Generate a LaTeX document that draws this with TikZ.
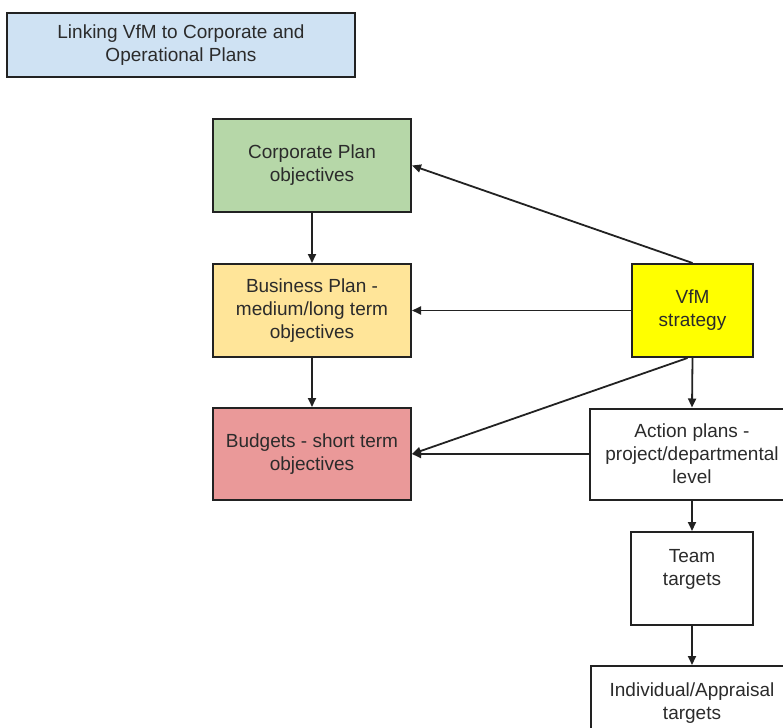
\documentclass[tikz,border=0pt]{standalone}
\usepackage{fontspec}
\setmainfont{Liberation Sans}
\usetikzlibrary{arrows.meta}
\definecolor{bordercol}{HTML}{222222}
\definecolor{textcol}{HTML}{2B2B2B}
\definecolor{titlefill}{HTML}{CFE2F3}
\definecolor{corpfill}{HTML}{B6D7A8}
\definecolor{busfill}{HTML}{FFE599}
\definecolor{budfill}{HTML}{EA9999}
\definecolor{vfmfill}{HTML}{FFFF00}
\tikzset{
  box/.style={draw=bordercol, line width=2pt, align=center, inner sep=0pt,
    font=\fontsize{19}{23}\selectfont, text=textcol, rectangle},
  arr/.style={draw=bordercol, line width=1.8pt, -{Triangle[length=9pt,width=8pt]}}
}
\begin{document}
\begin{tikzpicture}[x=1pt,y=-1pt]
\useasboundingbox (0,0) rectangle (783,727);
\node[box, fill=titlefill, minimum width=348pt, minimum height=64pt] (title) at (181,45)
  {Linking VfM to Corporate and\\Operational Plans};
\node[box, fill=corpfill, minimum width=198pt, minimum height=93pt] (corp) at (312,165.5)
  {Corporate Plan\\objectives};
\node[box, fill=busfill, minimum width=198pt, minimum height=93pt] (bus) at (312,310.5)
  {Business Plan -\\medium/long term\\objectives};
\node[box, fill=budfill, minimum width=198pt, minimum height=92pt] (bud) at (312,454)
  {Budgets - short term\\objectives};
\node[box, fill=vfmfill, minimum width=121pt, minimum height=93pt] (vfm) at (692.5,310.5)
  {VfM\\strategy};
\node[box, fill=white, minimum width=204pt, minimum height=91pt] (act) at (692,454)
  {Action plans -\\project/departmental\\level};
\node[box, fill=white, minimum width=122pt, minimum height=93pt] (team) at (692,578.5)
  {Team\\targets\\\mbox{}};
\node[box, fill=white, minimum width=202pt, minimum height=93pt] (ind) at (692,712.5)
  {Individual/Appraisal\\targets\\\mbox{}};
\draw[arr] (corp) -- (bus);
\draw[arr] (bus) -- (bud);
\draw[arr] (vfm.north) -- (corp.east);
\draw[arr] (vfm.west) -- (bus.east);
\draw[arr] (vfm.south) -- (act.north);
\draw[arr] ([xshift=-5pt]vfm.south) -- (bud.east);
\draw[arr] (act.west) -- (bud.east);
\draw[arr] (act) -- (team);
\draw[arr] (team) -- (ind);
\end{tikzpicture}
\end{document}
